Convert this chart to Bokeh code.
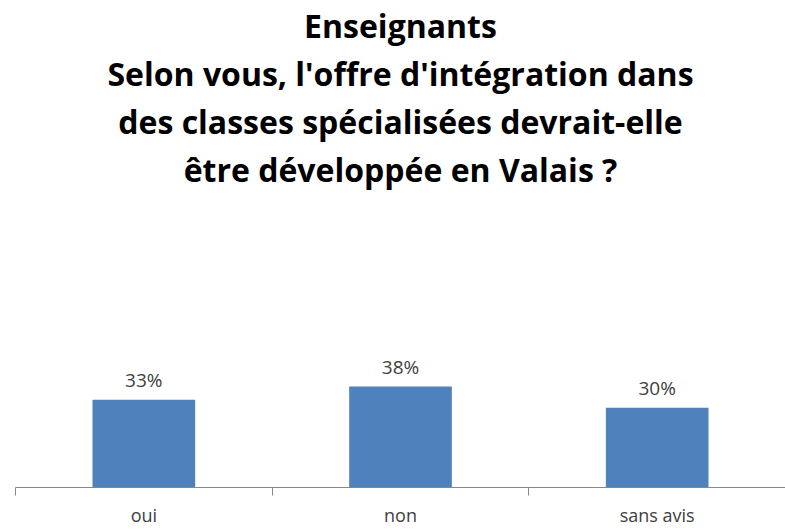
from bokeh.plotting import figure
from bokeh.models import (ColumnDataSource, LabelSet, Title, LinearAxis, Range1d,
                          FixedTicker)
from bokeh.core.properties import value
from bokeh.embed import file_html
from bokeh.resources import INLINE

categories = ["oui", "non", "sans avis"]
values = [33, 38, 30]
value_labels = ["33%", "38%", "30%"]
title_lines = [
    "Enseignants",
    "Selon vous, l'offre d'intégration dans",
    "des classes spécialisées devrait-elle",
    "être développée en Valais ?",
]

FONT = "Open Sans"
TXT = "#404040"
BAR = "#4F81BD"

centers = [i + 0.5 for i in range(len(categories))]
bounds = [i for i in range(len(categories) + 1)]
src = ColumnDataSource(dict(x=centers, cat=categories, val=values, lab=value_labels))

p = figure(width=785, height=529, x_range=Range1d(0, len(categories)),
           y_range=Range1d(0, 111), output_backend="svg", toolbar_location=None,
           x_axis_type=None, y_axis_type=None,
           min_border_left=15, min_border_right=0, min_border_bottom=0, min_border_top=0)
p.outline_line_color = None
p.grid.visible = False
p.background_fill_color = "white"
p.border_fill_color = "white"

p.vbar(x="x", top="val", width=0.4, source=src, fill_color=BAR, line_color=None)

p.add_layout(LabelSet(x="x", y="val", text="lab", source=src, text_align="center",
                      text_baseline="alphabetic", y_offset=13, text_font=value(FONT),
                      text_font_size="19px", text_color=TXT))

ax = LinearAxis(ticker=FixedTicker(ticks=centers, minor_ticks=bounds),
                major_label_overrides={c: n for c, n in zip(centers, categories)},
                axis_line_color="#888888", axis_line_width=1,
                major_tick_line_color=None, minor_tick_line_color="#888888",
                minor_tick_out=8, minor_tick_in=0, major_tick_out=0, major_tick_in=0,
                major_label_standoff=7, major_label_text_font=FONT,
                major_label_text_line_height=0.9,
                major_label_text_font_size="18px", major_label_text_color=TXT)
p.add_layout(ax, "below")

for line in reversed(title_lines):
    p.add_layout(Title(text=line, align="center", text_font=FONT, text_font_style="bold",
                       text_font_size="32px", text_color="#000000", standoff=3), "above")

open("out.html", "w").write(file_html(p, INLINE))
